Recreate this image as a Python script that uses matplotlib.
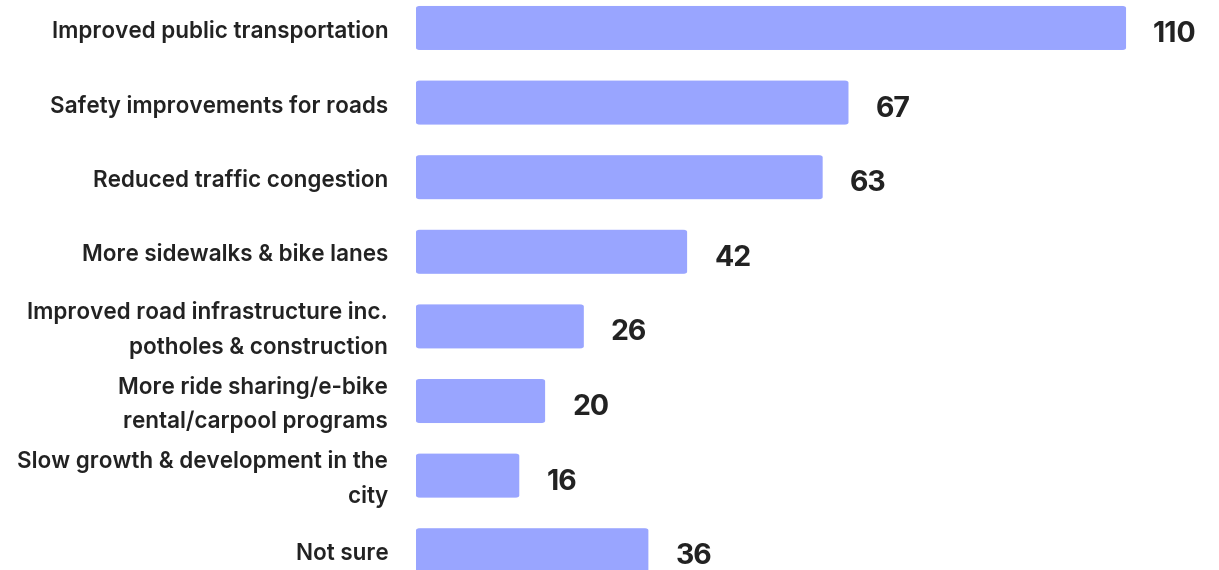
import matplotlib.pyplot as plt
import matplotlib.transforms as mtransforms
from matplotlib.patches import FancyBboxPatch

categories = [
    "Improved public transportation",
    "Safety improvements for roads",
    "Reduced traffic congestion",
    "More sidewalks & bike lanes",
    "Improved road infrastructure inc.\npotholes & construction",
    "More ride sharing/e-bike\nrental/carpool programs",
    "Slow growth & development in the\ncity",
    "Not sure",
]
values = [110, 67, 63, 42, 26, 20, 16, 36]

bar_color = "#99a5ff"
text_color = "#222222"

plt.rcParams['font.family'] = ['Inter', 'DejaVu Sans']

fig = plt.figure(figsize=(12.19, 5.70), dpi=100)
ax = fig.add_axes([416 / 1219, 0, 1 - 416 / 1219, 1])

ypos = list(range(len(values)))
bars = ax.barh(ypos, values, height=0.59, color=bar_color)

# swap the plain bars for slightly rounded ones
for b in bars:
    x, y = b.get_x(), b.get_y()
    w, h = b.get_width(), b.get_height()
    b.set_visible(False)
    ax.add_patch(FancyBboxPatch((x, y), w, h,
                                boxstyle="round,pad=0,rounding_size=0.6",
                                mutation_aspect=0.05,
                                facecolor=bar_color, edgecolor="none"))

# text sits a couple of pixels below the bar centre in the original
shift = mtransforms.ScaledTranslation(0, -2.5 / 72, fig.dpi_scale_trans)

for y, v in zip(ypos, values):
    ax.text(v + 4.2, y, str(v), va="center_baseline", ha="left",
            fontsize=20.5, fontweight="bold", color=text_color,
            transform=ax.transData + shift)

ax.set_xlim(0, 124.4)
ax.set_ylim(7.265, -0.375)
ax.set_yticks(ypos)
ax.set_yticklabels(categories, fontsize=16.2, fontweight="semibold",
                   color=text_color, linespacing=1.7)
ax.tick_params(axis="y", length=0, pad=20)
for lab in ax.get_yticklabels():
    lab.set_va("center")
    lab.set_transform(lab.get_transform() + shift)
ax.set_xticks([])
for s in ax.spines.values():
    s.set_visible(False)

fig.savefig("out.png", dpi=100)
